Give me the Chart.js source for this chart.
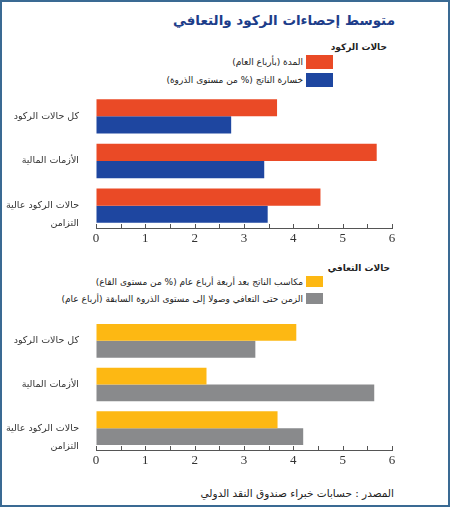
<!DOCTYPE html>
<html lang="ar">
<head>
<meta charset="utf-8">
<script src="https://cdn.jsdelivr.net/npm/chart.js@4"></script>
<style>
  html, body { margin: 0; padding: 0; background: #fff; }
  body { width: 458px; height: 509px; position: relative; overflow: hidden; font-family: "DejaVu Sans", sans-serif; }
  .frame { position: absolute; left: 0; top: 0; width: 446px; height: 503px; border: 2px solid #3a6a93; }
  .title { position: absolute; right: 63px; top: 12px; direction: rtl; font-size: 13.5px; font-weight: bold; color: #1d3d8a; white-space: nowrap; }
  .legend { position: absolute; direction: rtl; font-size: 9px; color: #222; }
  .legend .head { font-weight: bold; font-size: 9px; margin-bottom: 3px; }
  .legend .item { display: flex; align-items: center; white-space: nowrap; }
  .legend .box { display: inline-block; margin-left: 3px; }
  canvas { position: absolute; left: 0; }
  .source { position: absolute; right: 64px; top: 487px; direction: rtl; font-size: 10.5px; color: #222; white-space: nowrap; }
</style>
</head>
<body>
<div class="frame"></div>
<div class="title">متوسط إحصاءات الركود والتعافي</div>

<div class="legend" id="legend1" style="right:125px; top:42px;"></div>
<canvas id="chart1" width="410" height="160" style="top:90px; width:410px; height:160px;"></canvas>

<div class="legend" id="legend2" style="right:135px; top:263px;"></div>
<canvas id="chart2" width="410" height="160" style="top:312px; width:410px; height:160px;"></canvas>

<div class="source">المصدر : حسابات خبراء صندوق النقد الدولي</div>

<script>
var categories = [['كل حالات الركود'], ['الأزمات المالية'], ['حالات الركود عالية', 'التزامن']];
var xTickValues = [0, 1, 2, 3, 4, 5, 6];

// حالات الركود
var recessionTitle = 'حالات الركود';
var recessionLabels = ['المدة (بأرباع العام)', 'خسارة الناتج (% من مستوى الذروة)'];
var recessionDuration = [3.67, 5.69, 4.55];
var recessionOutputLoss = [2.74, 3.41, 3.48];
var recessionColors = ['#ea4a26', '#1e46a0'];

// حالات التعافي
var recoveryTitle = 'حالات التعافي';
var recoveryLabels = ['مكاسب الناتج بعد أربعة أرباع عام (% من مستوى القاع)', 'الزمن حتى التعافي وصولا إلى مستوى الذروة السابقة (أرباع عام)'];
var recoveryOutputGain = [4.06, 2.24, 3.68];
var recoveryTimeToPeak = [3.23, 5.64, 4.20];
var recoveryColors = ['#fdb813', '#898a8c'];

function buildLegend(id, title, labels, colors, boxW, boxH, gap, headShift) {
    var el = document.getElementById(id);
    var html = '<div class="head" style="margin-right:-' + headShift + 'px">' + title + '</div>';
    for (var i = 0; i < labels.length; i++) {
        html += '<div class="item" style="margin-bottom:' + gap + 'px">' +
            '<span class="box" style="width:' + boxW + 'px;height:' + boxH + 'px;background:' + colors[i] + '"></span>' +
            '<span>' + labels[i] + '</span></div>';
    }
    el.innerHTML = html;
}
buildLegend('legend1', recessionTitle, recessionLabels, recessionColors, 27, 14, 4, 54);
buildLegend('legend2', recoveryTitle, recoveryLabels, recoveryColors, 17, 11, 6, 67);

// tick marks pointing up into the plot, every half unit
const upTicks = {
    id: 'upTicks',
    afterDraw(chart) {
        const s = chart.scales.x;
        const c = chart.ctx;
        c.save();
        c.strokeStyle = '#555';
        c.lineWidth = 1;
        s.ticks.forEach(function (t) {
            const x = Math.round(s.getPixelForValue(t.value)) + 0.5;
            c.beginPath();
            c.moveTo(x, s.top);
            c.lineTo(x, s.top - 4);
            c.stroke();
        });
        c.restore();
    }
};

function makeChart(id, data1, data2, labels, colors, padTop) {
    const ctx = document.getElementById(id).getContext('2d');
    return new Chart(ctx, {
        type: 'bar',
        data: {
            labels: categories,
            datasets: [{
                label: labels[0],
                data: data1,
                backgroundColor: colors[0],
                barPercentage: 1,
                categoryPercentage: 0.77
            }, {
                label: labels[1],
                data: data2,
                backgroundColor: colors[1],
                barPercentage: 1,
                categoryPercentage: 0.77
            }]
        },
        options: {
            indexAxis: 'y',
            responsive: false,
            animation: false,
            devicePixelRatio: 1,
            layout: { padding: { top: padTop, right: 18, bottom: 0, left: 0 } },
            plugins: { legend: { display: false }, tooltip: { enabled: false } },
            scales: {
                x: {
                    min: 0,
                    max: 6,
                    afterBuildTicks: function (scale) {
                        var t = [];
                        for (var i = 0; i < xTickValues.length; i++) {
                            t.push({ value: xTickValues[i] });
                            if (i < xTickValues.length - 1) t.push({ value: xTickValues[i] + 0.5 });
                        }
                        scale.ticks = t;
                    },
                    afterFit: function (scale) {
                        scale.height = 22;
                        scale.paddingLeft = 0;
                        scale.paddingRight = 0;
                    },
                    grid: { display: true, drawOnChartArea: false, drawTicks: false },
                    border: { display: true, color: '#555', width: 1 },
                    ticks: {
                        autoSkip: false,
                        maxRotation: 0,
                        padding: 3,
                        color: '#333',
                        font: { family: 'Liberation Serif', size: 13 },
                        callback: function (v) { return Number.isInteger(v) ? String(v) : ''; }
                    }
                },
                y: {
                    afterFit: function (scale) {
                        scale.width = 96;
                        scale.paddingTop = 0;
                        scale.paddingBottom = 0;
                    },
                    grid: { display: false },
                    border: { display: false },
                    ticks: {
                        autoSkip: false,
                        padding: 9,
                        color: '#333',
                        font: { family: 'DejaVu Sans', size: 9.5, lineHeight: 1.9 },
                        callback: function (v, i) {
                            var l = categories[i];
                            return l.length > 1 ? [''].concat(l) : l;
                        }
                    }
                }
            }
        },
        plugins: [upTicks]
    });
}

makeChart('chart1', recessionDuration, recessionOutputLoss, recessionLabels, recessionColors, 4);
makeChart('chart2', recoveryOutputGain, recoveryTimeToPeak, recoveryLabels, recoveryColors, 7);
</script>
</body>
</html>
